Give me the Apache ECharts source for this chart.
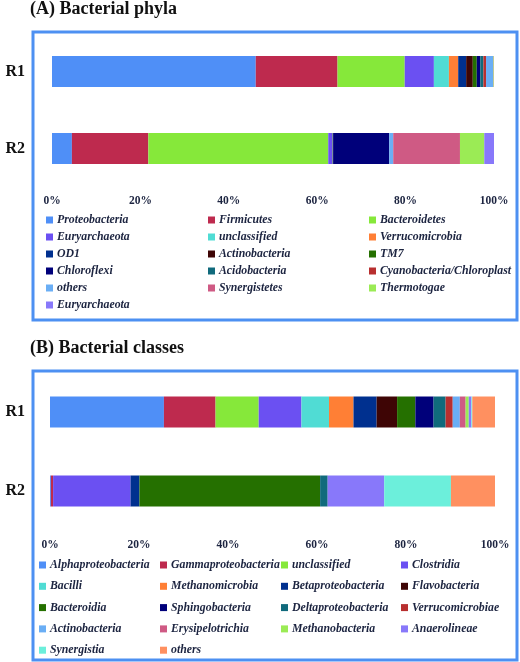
<!DOCTYPE html>
<html>
<head>
<meta charset="utf-8">
<script src="https://cdn.jsdelivr.net/npm/echarts@6/dist/echarts.min.js"></script>
<style>
html,body{margin:0;padding:0;background:#fff;}
#c{width:520px;height:662px;}
</style>
</head>
<body>
<div id="c"></div>
<script>
var samples = ['R1', 'R2'];
var tickLabels = ['0%', '20%', '40%', '60%', '80%', '100%'];

var phylaNames = ['Proteobacteria','Firmicutes','Bacteroidetes','Euryarchaeota','unclassified','Verrucomicrobia','OD1','Actinobacteria','TM7','Chloroflexi','Acidobacteria','Cyanobacteria/Chloroplast','others','Synergistetes','Thermotogae','Euryarchaeota'];
var phylaR1 = [46.1,18.5,15.2,6.6,3.4,2.1,1.8,1.5,0.9,0.8,0.7,0.6,1.6,0.1,0.1,0];
var phylaR2 = [4.5,17.3,40.7,0.9,0.1,0,0,0.1,0,12.7,0,0,0.9,15.1,5.5,2.2];

var classNames = ['Alphaproteobacteria','Gammaproteobacteria','unclassified','Clostridia','Bacilli','Methanomicrobia','Betaproteobacteria','Flavobacteria','Bacteroidia','Sphingobacteria','Deltaproteobacteria','Verrucomicrobiae','Actinobacteria','Erysipelotrichia','Methanobacteria','Anaerolineae','Synergistia','others'];
var classR1 = [25.6,11.6,9.7,9.6,6.2,5.5,5.2,4.6,4.1,4.1,2.7,1.6,1.6,1.3,0.7,0.6,0.2,5.1];
var classR2 = [0.2,0.5,0,17.4,0,0,2.0,0,40.6,0,1.7,0,0,0,0,12.7,15.0,9.9];

var palette = ['#4F8FF7','#BE2A4E','#86E83A','#6B50F2','#50DCD4','#FF7F35','#00308F','#3E0505','#257000','#00007A','#106A7C','#B82F2F','#6AAEF5','#CF5A84','#9BEB55','#8878FA','#6CEFDB','#FF9060'];

var chart = echarts.init(document.getElementById('c'), null, {renderer: 'canvas'});

var serif = 'Liberation Serif, Times New Roman, serif';
var labelMap = {};
var series = [];
phylaNames.forEach(function (n, i) {
  var id = 'A' + i; labelMap[id] = n;
  series.push({name: id, type: 'bar', stack: 'A', xAxisIndex: 0, yAxisIndex: 0, barWidth: 31,
    itemStyle: {color: palette[i]}, data: [phylaR1[i], phylaR2[i]], emphasis: {disabled: true}});
});
classNames.forEach(function (n, i) {
  var id = 'B' + i; labelMap[id] = n;
  series.push({name: id, type: 'bar', stack: 'B', xAxisIndex: 1, yAxisIndex: 1, barWidth: 31,
    itemStyle: {color: palette[i]}, data: [classR1[i], classR2[i]], emphasis: {disabled: true}});
});

function legendCols(prefix, names, ncol, lefts, top, gap) {
  var out = [];
  for (var c = 0; c < ncol; c++) {
    var d = [];
    for (var i = c; i < names.length; i += ncol) d.push({name: prefix + i, icon: 'rect'});
    out.push({
      orient: 'vertical', left: lefts[c], top: top, padding: 0, itemGap: gap,
      itemWidth: 7, itemHeight: 7, selectedMode: false, data: d,
      formatter: function (nm) { return labelMap[nm]; },
      textStyle: {fontFamily: serif, fontStyle: 'italic', fontWeight: 'bold', fontSize: 11.8, color: '#1c2440', lineHeight: 14, padding: [0, 0, 0, -1]}
    });
  }
  return out;
}

var legends = legendCols('A', phylaNames, 3, [46, 208, 369], 213, 3)
  .concat(legendCols('B', classNames, 4, [39, 160, 281, 401], 558, 7.3));

function xAx(gi, margin) {
  return {type: 'value', gridIndex: gi, min: 0, max: 100, interval: 20,
    axisLine: {show: false}, axisTick: {show: false}, splitLine: {show: false},
    axisLabel: {margin: margin, fontFamily: serif, fontWeight: 'bold', fontSize: 11.5, color: '#1c2440',
      formatter: function (v) { return tickLabels[Math.round(v / 20)]; }}};
}
function yAx(gi, margin) {
  return {type: 'category', gridIndex: gi, data: samples, inverse: true,
    axisLine: {show: false}, axisTick: {show: false},
    axisLabel: {margin: margin, fontFamily: serif, fontWeight: 'bold', fontSize: 16, color: '#111'}};
}

chart.setOption({
  animation: false,
  title: [
    {text: '(A) Bacterial phyla', left: 30, top: 0, padding: 0,
      textStyle: {fontFamily: serif, fontWeight: 'bold', fontSize: 18, color: '#111'}},
    {text: '(B) Bacterial classes', left: 30, top: 339, padding: 0,
      textStyle: {fontFamily: serif, fontWeight: 'bold', fontSize: 18, color: '#111'}}
  ],
  legend: legends,
  grid: [
    {left: 52, right: 26, top: 33, height: 154},
    {left: 50, right: 25, top: 372.5, height: 158}
  ],
  xAxis: [xAx(0, 8), xAx(1, 9)],
  yAxis: [yAx(0, 27), yAx(1, 25)],
  series: series,
  graphic: [
    {type: 'rect', shape: {x: 33, y: 32, width: 484, height: 288}, style: {fill: 'none', stroke: '#4D90F2', lineWidth: 3}, z: 100},
    {type: 'rect', shape: {x: 33, y: 371, width: 484, height: 289}, style: {fill: 'none', stroke: '#4D90F2', lineWidth: 3}, z: 100}
  ]
});
</script>
</body>
</html>
